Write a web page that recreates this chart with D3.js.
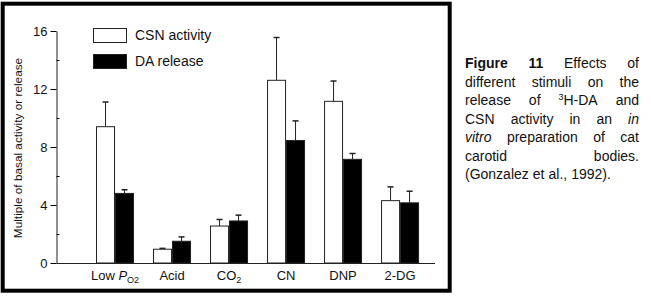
<html>
  <head>
    <script src="https://d3js.org/d3.v7.min.js"></script>
    <style>
      body { margin: 0; background: #fff; }
      text { font-family: "Liberation Sans", Arial, sans-serif; fill: #111; }
    </style>
  </head>

  <body>
    <svg id="vis"></svg>
  </body>

  <script>
    // Data
    var categories = ["Low PO2", "Acid", "CO2", "CN", "DNP", "2-DG"]
    var csnActivity = [9.4, 0.95, 2.55, 12.6, 11.15, 4.3]
    var csnError = [1.7, 0.06, 0.45, 2.95, 1.4, 0.95]
    var daRelease = [4.8, 1.5, 2.9, 8.45, 7.15, 4.15]
    var daError = [0.25, 0.3, 0.4, 1.35, 0.4, 0.8]
    var yTicks = [0, 4, 8, 12, 16]
    var yMinorTicks = [2, 6, 10, 14]
    // label pieces: [text, style]  (i = italic, sub = subscript)
    var xLabels = [
      [["Low ", ""], ["P", "i"], ["O", "sub"], ["2", "sub2"]],
      [["Acid", ""]],
      [["CO", ""], ["2", "sub"]],
      [["CN", ""]],
      [["DNP", ""]],
      [["2-DG", ""]]
    ]
    var seriesNames = ["CSN activity", "DA release"]

    var width = 651, height = 302

    var svg = d3.select("svg")
      .attr("width", width)
      .attr("height", height)

    // frame round the chart
    svg.append("rect")
      .attr("x", 2.7).attr("y", 3.7)
      .attr("width", 447).attr("height", 287)
      .attr("fill", "none")
      .attr("stroke", "#000")
      .attr("stroke-width", 4)

    var x = d3.scaleBand()
      .domain(categories)
      .range([57, 435])
      .paddingInner(1 / 3)
      .paddingOuter(0.482)
      .align(0.71)

    var xSub = d3.scaleBand()
      .domain(seriesNames)
      .range([0, x.bandwidth()])

    var y = d3.scaleLinear().domain([0, 16]).range([263, 31])

    var g = svg.append("g")

    // y axis
    g.append("g")
      .attr("transform", "translate(56.5,0)")
      .call(d3.axisLeft(y).tickValues(yTicks).tickSize(6).tickSizeOuter(0).tickPadding(3))
      .call(function(a) {
        a.selectAll("text").style("font-size", "13px").style("font-family", "Liberation Sans, Arial, sans-serif").attr("fill", "#111")
        a.select(".domain").attr("stroke", "#222")
      })

    g.append("g")
      .attr("transform", "translate(56.5,0)")
      .call(d3.axisRight(y).tickValues(yMinorTicks).tickSize(3).tickFormat(""))
      .call(function(a) { a.select(".domain").remove() })

    // baseline
    g.append("line")
      .attr("x1", 56.5).attr("x2", x.range()[1])
      .attr("y1", y(0) + 0.5).attr("y2", y(0) + 0.5)
      .attr("stroke", "#222")

    // bars
    var rows = categories.map(function(c, i) {
      return [
        {cat: c, key: seriesNames[0], v: csnActivity[i], e: csnError[i]},
        {cat: c, key: seriesNames[1], v: daRelease[i], e: daError[i]}
      ]
    })
    var flat = rows.flat()

    var bars = g.selectAll("g.bar").data(flat).enter().append("g").attr("class", "bar")

    bars.append("line")
      .attr("x1", function(d) { return x(d.cat) + xSub(d.key) + xSub.bandwidth() / 2 })
      .attr("x2", function(d) { return x(d.cat) + xSub(d.key) + xSub.bandwidth() / 2 })
      .attr("y1", function(d) { return y(d.v) })
      .attr("y2", function(d) { return y(d.v + d.e) })
      .attr("stroke", "#222")

    bars.append("line")
      .attr("x1", function(d) { return x(d.cat) + xSub(d.key) + xSub.bandwidth() / 2 - 3 })
      .attr("x2", function(d) { return x(d.cat) + xSub(d.key) + xSub.bandwidth() / 2 + 3 })
      .attr("y1", function(d) { return y(d.v + d.e) })
      .attr("y2", function(d) { return y(d.v + d.e) })
      .attr("stroke", "#222")
      .attr("stroke-width", 1.5)

    bars.append("rect")
      .attr("x", function(d) { return x(d.cat) + xSub(d.key) + 0.5 })
      .attr("width", xSub.bandwidth() - 1)
      .attr("y", function(d) { return y(d.v) })
      .attr("height", function(d) { return y(0) - y(d.v) })
      .attr("fill", function(d) { return d.key === seriesNames[0] ? "#fff" : "#000" })
      .attr("stroke", "#222")
      .attr("stroke-width", 1)

    // x labels
    categories.forEach(function(c, i) {
      var t = g.append("text")
        .attr("x", x(c) + x.bandwidth() / 2)
        .attr("y", 280)
        .attr("text-anchor", "middle")
        .style("font-size", "13px")
      xLabels[i].forEach(function(p) {
        var s = t.append("tspan").text(p[0])
        if (p[1] === "i") s.style("font-style", "italic")
        if (p[1] === "sub") s.style("font-size", "9px").attr("dy", 3)
        if (p[1] === "sub2") s.style("font-size", "9px")
      })
    })

    // y label
    svg.append("text")
      .attr("transform", "translate(21.5,148) rotate(-90)")
      .attr("text-anchor", "middle")
      .style("font-size", "11.8px")
      .text("Multiple of basal activity or release")

    // legend
    var legend = svg.append("g")
    seriesNames.forEach(function(n, i) {
      legend.append("rect")
        .attr("x", 93.5).attr("y", 28.5 + i * 26)
        .attr("width", 33).attr("height", 14)
        .attr("fill", i === 0 ? "#fff" : "#000")
        .attr("stroke", "#222")
      legend.append("text")
        .attr("x", 135).attr("y", 40 + i * 26)
        .style("font-size", "14px")
        .text(n)
    })

    // caption, justified
    var captionLines = [
      [[["Figure", "b"]], [["11", "b"]], [["Effects", ""]], [["of", ""]]],
      [[["different", ""]], [["stimuli", ""]], [["on", ""]], [["the", ""]]],
      [[["release", ""]], [["of", ""]], [["3", "sup"], ["H-DA", ""]], [["and", ""]]],
      [[["CSN", ""]], [["activity", ""]], [["in", ""]], [["an", ""]], [["in", "i"]]],
      [[["vitro", "i"]], [["preparation", ""]], [["of", ""]], [["cat", ""]]],
      [[["carotid", ""]], [["bodies.", ""]]],
      [[["(Gonzalez", ""]], [["et", ""]], [["al.,", ""]], [["1992).", ""]]]
    ]
    var capLeft = 465, capRight = 639, capTop = 68, capStep = 18.5
    var cap = svg.append("g")
    captionLines.forEach(function(line, li) {
      var words = line.map(function(w) {
        var t = cap.append("text").attr("y", capTop + li * capStep).style("font-size", "14px")
        w.forEach(function(p) {
          var s = t.append("tspan").text(p[0])
          if (p[1] === "b") s.style("font-weight", "bold")
          if (p[1] === "i") s.style("font-style", "italic")
          if (p[1] === "sup") s.style("font-size", "9px").attr("dy", -5)
          if (p[0] === "H-DA") s.attr("dy", 5)
        })
        return t
      })
      var widths = words.map(function(t) { return t.node().getComputedTextLength() })
      var last = li === captionLines.length - 1
      var gap = last ? 4 : (capRight - capLeft - d3.sum(widths)) / (words.length - 1)
      var cx = capLeft
      words.forEach(function(t, k) {
        t.attr("x", cx)
        cx += widths[k] + gap
      })
    })
  </script>
</html>
